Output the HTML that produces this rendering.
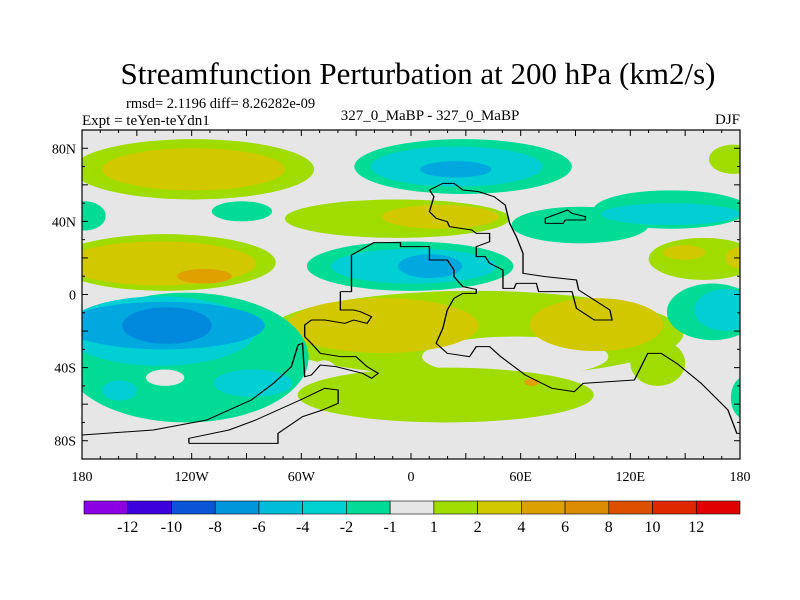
<!DOCTYPE html>
<html><head><meta charset="utf-8"><style>
body{margin:0;background:#fff}
svg{display:block;font-family:"Liberation Serif",serif}
</style></head><body>
<svg width="800" height="600" viewBox="0 0 800 600">
<rect width="800" height="600" fill="#fff"/>
<text x="418" y="84" font-size="31" text-anchor="middle">Streamfunction Perturbation at 200 hPa (km2/s)</text>
<text x="126" y="108" font-size="14.5">rmsd= 2.1196 diff= 8.26282e-09</text>
<text x="82" y="125" font-size="15">Expt = teYen-teYdn1</text>
<text x="430" y="120" font-size="15" text-anchor="middle">327_0_MaBP - 327_0_MaBP</text>
<text x="740" y="124" font-size="15" text-anchor="end">DJF</text>
<defs><clipPath id="pc"><rect x="82" y="130" width="658" height="329"/></clipPath></defs>
<g id="plot" clip-path="url(#pc)">
<rect x="82" y="130" width="658" height="329" fill="#e6e6e6"/>
<g id="blobs"></g>
<g transform="translate(59.7,90) scale(0.44549,0.33333)" fill="none" stroke="#000" stroke-width="3">
<polyline points="630,605 655,605 655,495 705,458 765,458 765,470 830,470 830,510 870,510 885,540 885,560 905,590 935,598 935,610 905,610 885,625 870,660 860,715 845,760 870,790 920,800 935,770 965,770 990,800 1045,855 1105,895 1155,905 1175,880 1290,870 1320,790 1350,790 1385,820 1440,880 1500,960 1520,1030 1527,1030"/>
<polyline points="630,605 630,660 660,660 675,665 700,680 690,700 660,690 640,700 595,690 565,690 550,705 550,740 565,760 585,790 630,800 665,800 690,830 715,850 700,865 680,850 620,830 585,825 565,855 550,860 545,760 535,765 520,830 480,880 430,930 330,990 210,1020 50,1035"/>
<polyline points="290,1060 490,1060 490,1030 545,980 590,960 625,940 625,900 595,895 540,930 440,990 380,1020 290,1045 290,1060"/>
<polyline points="830,300 860,280 885,280 905,300 940,305 975,320 1000,345 1010,400 1025,440 1040,490 1040,550 1090,560 1160,570 1165,600 1235,660 1240,690 1200,690 1160,655 1150,605 1075,605 1070,580 1025,580 1020,595 995,595 995,540 965,520 955,500 935,500 935,470 965,455 965,430 935,430 925,420 875,410 870,395 845,385 830,365 840,320 830,300"/>
<polyline points="1090,400 1090,385 1140,360 1150,370 1180,380 1180,390 1135,390 1130,400 1090,400"/>
</g>
</g>
<rect x="82" y="130" width="658" height="329" fill="none" stroke="#000" stroke-width="1.2"/>
<g id="axes" font-size="14"></g>
<g id="cbar" font-size="16"></g>
</svg>
<script>
// blobs: lon range, lat range, level code
const blobLon0=[-185,-169,-31,-22,5,163,-190,-109,-69,-16,55,100,104,130,138,172,-195,-190,-128,-57,-44,-7, -79,120,6,-68,65, -190,-190,-190,-158,-145,-169,-108, -57,-62,62, 140,155,175];
const blobLon1=[-53,-69,88,72,44,190,-167,-76,54,48,130,185,180,190,161,190,-74,-85,-98,56,47,28, 149,150,108,37,138, -56,-85,-80,-109,-124,-150,-65, -38,100,70, 190,190,190];
const blobLat0=[52,57,55,59,64,66,35,40,31,36,28,36,38,8,19,14,2,5,6,2,6,9, -45,-50,-45,-32,-31, -70,-39,-30,-27,-50,-58,-56, -62,-70,-50, -25,-20,-68];
const blobLat1=[85,80,85,81,73,82,51,51,52,49,48,57,50,31,27,26,33,29,14,29,25,22, 2,-25,-23,-2,-2, 1,-1,-4,-7,-41,-47,-41, -36,-40,-46, 6,3,-45];
const blobLevel=['l','y','g','c','b','l','g','g','l','y','g','g','c','l','y','y','l','y','o','g','c','b', 'l','l','w','y','y', 'g','c','b','B','w','c','c', 'w','l','o', 'g','c','g'];
const colors={g:'#00dc96',c:'#00d0d4',b:'#00a8e0',B:'#0088dc',l:'#a0dc00',y:'#d2c800',o:'#e0a000',w:'#e6e6e6'};
const X=lon=>82+(lon+180)/360*658, Y=lat=>130+(90-lat)/180*329;
const NS='http://www.w3.org/2000/svg';
const bg=document.getElementById('blobs');
for(let i=0;i<blobLon0.length;i++){
  const e=document.createElementNS(NS,'ellipse');
  
  
  const x0=X(blobLon0[i]),x1=X(blobLon1[i]),y0=Y(blobLat1[i]),y1=Y(blobLat0[i]);
  e.setAttribute('cx',(x0+x1)/2);e.setAttribute('cy',(y0+y1)/2);
  e.setAttribute('rx',(x1-x0)/2);e.setAttribute('ry',(y1-y0)/2);
  e.setAttribute('fill',colors[blobLevel[i]]);
  bg.appendChild(e);
}
const lonTicks=[-180,-120,-60,0,60,120,180];
const lonLabels=['180','120W','60W','0','60E','120E','180'];
const latTicks=[80,40,0,-40,-80];
const latLabels=['80N','40N','0','40S','80S'];
const ax=document.getElementById('axes');
function line(x1,y1,x2,y2){const l=document.createElementNS(NS,'line');


l.setAttribute('x1',x1);l.setAttribute('y1',y1);l.setAttribute('x2',x2);l.setAttribute('y2',y2);l.setAttribute('stroke','#000');ax.appendChild(l);}
function text(x,y,s,anchor,name){const t=document.createElementNS(NS,'text');


t.setAttribute('x',x);t.setAttribute('y',y);t.setAttribute('text-anchor',anchor);t.textContent=s;ax.appendChild(t);}
for(let lon=-180;lon<=180;lon+=10){const maj=lon%30===0,len=maj?6:3;
line(X(lon),130,X(lon),130+len);line(X(lon),459,X(lon),459-len);}
for(let lat=-90;lat<=90;lat+=10){const maj=lat%20===0,len=maj?6:3;
line(82,Y(lat),82+len,Y(lat));line(740,Y(lat),740-len,Y(lat));}
lonTicks.forEach((v,i)=>text(X(v),481,lonLabels[i],'middle','x-tick-label'));
latTicks.forEach((v,i)=>text(76,Y(v)+5,latLabels[i],'end','y-tick-label'));
const cbColors=['#8c00e6','#3c00dc','#0a55d7','#0096dc','#00beda','#00d2d2','#00dc96','#e6e6e6','#a0dc00','#d2c800','#dca000','#dc8c00','#dc5000','#e02800','#e00000'];
const cbLabels=['-12','-10','-8','-6','-4','-2','-1','1','2','4','6','8','10','12'];
const cb=document.getElementById('cbar');
const cbx=84,cbw=(740-84)/cbColors.length;
cbColors.forEach((c,i)=>{const r=document.createElementNS(NS,'rect');


r.setAttribute('x',cbx+i*cbw);r.setAttribute('y',501);r.setAttribute('width',cbw);r.setAttribute('height',13);
r.setAttribute('fill',c);r.setAttribute('stroke','#000');r.setAttribute('stroke-width','0.6');cb.appendChild(r);});
cbLabels.forEach((s,i)=>{const t=document.createElementNS(NS,'text');


t.setAttribute('x',cbx+(i+1)*cbw);t.setAttribute('y',532);t.setAttribute('text-anchor','middle');t.textContent=s;cb.appendChild(t);});
</script>
</body></html>
